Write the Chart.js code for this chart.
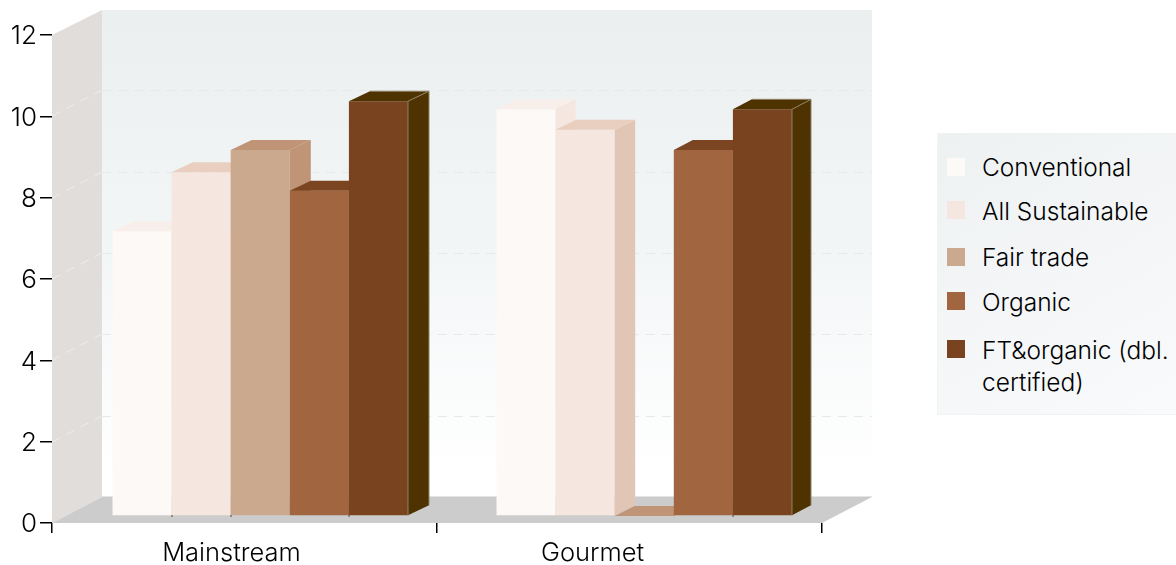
<!DOCTYPE html>
<html><head><meta charset="utf-8">
<script src="https://cdn.jsdelivr.net/npm/chart.js@4"></script>
<style>
html,body{margin:0;padding:0;background:#fff;overflow:hidden}
#wrap{position:relative;width:1176px;height:565px}
canvas{position:absolute;left:0;top:0}
#legend{position:absolute;left:937px;top:133px;width:239px;height:282px;box-sizing:border-box;
background:linear-gradient(150deg,#eef1f2 0%,#f9fafb 100%);border:1px solid #f1f2f2;border-right:none;
font:300 24.5px "Inter",sans-serif;color:#000}
.sw{position:absolute;left:9px;width:18px;height:18px}
.tx{position:absolute;left:44px;line-height:32px;white-space:nowrap}
</style></head><body>
<div id="wrap"><canvas id="c" width="1176" height="565"></canvas><div id="legend"></div></div>
<script>
const categories = ["Mainstream", "Gourmet"];
const seriesNames = ["Conventional", "All Sustainable", "Fair trade", "Organic", "FT&organic (dbl.\ncertified)"];
const conventional = [7, 10];
const allSustainable = [8.45, 9.5];
const fairTrade = [9, 0];
const organic = [8, 9];
const ftOrganic = [10.2, 10];
const seriesValues = [conventional, allSustainable, fairTrade, organic, ftOrganic];
const frontColors = ["#fdf9f6", "#f5e7df", "#cba98f", "#a16640", "#7a431f"];
const topColors = ["#f8efea", "#e9cfc0", "#bf9477", "#7b4521", "#4e3200"];
const sideColors = ["#f5e7df", "#e2c6b5", "#bf9477", "#7b4521", "#4e3200"];
const edgeColors = [null, null, null, null, "#8f8264"];
const yTicks = [0, 2, 4, 6, 8, 10, 12];
const FONT = 'Inter';

const room = {dx: 50, dy: 26};        // depth of the floor and walls
const bar = {dy: 10, up: 7};          // rise of a bar's depth and its lift off the front edge
const barDepths = [[21, 21, 21, 21, 21], [20, 20.5, 20, 19, 19]];
const barShift = [15.75, 14.75];
const labelShift = [-13, -37];
const yLabelDrop = 1.5;
const baseMarks = [[0, 0], [0, 1], [0, 3], [1, 3]];   // [category, series] small marks at bar feet

function poly(ctx, pts, fill) {
  ctx.beginPath();
  pts.forEach((p, i) => i ? ctx.lineTo(p[0], p[1]) : ctx.moveTo(p[0], p[1]));
  ctx.closePath();
  ctx.fillStyle = fill;
  ctx.fill();
}

const room3d = {
  id: "room3d",
  beforeDraw(chart) {
    const xs = chart.scales.x, ys = chart.scales.y;
    xs.getLabelItems().forEach((it, i) => {
      it.options.translation[0] = xs.getPixelForTick(i) + labelShift[i];
    });
    ys.getLabelItems().forEach((it, i) => {
      it.options.translation[1] = ys.getPixelForTick(i) + yLabelDrop;
    });
  },
  beforeDatasetsDraw(chart) {
    const {ctx, chartArea: a, scales: {y}} = chart;
    const bx = a.left + room.dx, bxr = a.right + room.dx;
    const top = a.top - room.dy + 1, bot = a.bottom - room.dy;
    // back wall
    const g = ctx.createLinearGradient(0, top, 0, bot);
    g.addColorStop(0, "#ebefef");
    g.addColorStop(0.5, "#f3f6f7");
    g.addColorStop(0.95, "#ffffff");
    ctx.fillStyle = g;
    ctx.fillRect(bx, top, bxr - bx, bot - top);
    // side wall
    poly(ctx, [[a.left, a.top], [bx, top], [bx, bot], [a.left, a.bottom]], "#e0dddb");
    // floor
    poly(ctx, [[a.left, a.bottom], [a.right, a.bottom], [bxr, bot], [bx, bot]], "#cccccc");
    ctx.fillStyle = "#e4e4e4";
    ctx.fillRect(bx, bot - 1, bxr - bx, 1);
    // gridlines
    ctx.save();
    ctx.lineWidth = 1;
    ctx.setLineDash([9, 7]);
    y.ticks.forEach(t => {
      if (t.value === 0 || t.value === 12) return;
      const py = Math.round(y.getPixelForValue(t.value));
      ctx.strokeStyle = "#f0eeec";
      ctx.beginPath(); ctx.moveTo(a.left, py); ctx.lineTo(bx, py - room.dy); ctx.stroke();
      ctx.strokeStyle = "#e6e9e9";
      ctx.beginPath(); ctx.moveTo(bx, py - room.dy + .5); ctx.lineTo(bxr, py - room.dy + .5); ctx.stroke();
    });
    ctx.restore();
    // bars, left to right so that each front hides its neighbour's side
    const items = [];
    chart.data.datasets.forEach((d, di) => {
      chart.getDatasetMeta(di).data.forEach((el, ci) => items.push({el, di, ci}));
    });
    items.sort((p, q) => p.ci - q.ci || p.di - q.di);
    items.forEach(({el, di, ci}) => {
      const s = el.getProps(["x", "y", "base", "width"], true);
      const ox = barShift[ci], oy = -bar.up, dx = barDepths[ci][di];
      const l = s.x - s.width / 2 + ox, r = s.x + s.width / 2 + ox;
      const t = s.y + oy, b = s.base + oy;
      ctx.save();
      ctx.translate(ox, oy);
      el.draw(ctx);
      ctx.restore();
      poly(ctx, [[l, t], [r, t], [r + dx, t - bar.dy], [l + dx, t - bar.dy]], topColors[di]);
      poly(ctx, [[r, t], [r + dx, t - bar.dy], [r + dx, b - bar.dy], [r, b]], sideColors[di]);
      if (edgeColors[di]) {
        ctx.strokeStyle = edgeColors[di];
        ctx.lineWidth = 1;
        ctx.beginPath();
        ctx.moveTo(r, b); ctx.lineTo(r, t); ctx.lineTo(r + dx, t - bar.dy); ctx.lineTo(r + dx, b - bar.dy);
        ctx.moveTo(l + dx, t - bar.dy); ctx.lineTo(r + dx, t - bar.dy);
        ctx.stroke();
      }
    });
    ctx.fillStyle = "#222";
    baseMarks.forEach(([ci, di]) => {
      const s = chart.getDatasetMeta(di).data[ci].getProps(["x", "base", "width"], true);
      ctx.fillRect(Math.round(s.x + s.width / 2 + barShift[ci]) - .5, s.base - bar.up, 1, 1.5);
    });
    return false;
  }
};

const chart = new Chart(document.getElementById("c"), {
  type: "bar",
  data: {
    labels: categories,
    datasets: seriesNames.map((n, i) => ({
      label: n, data: seriesValues[i], backgroundColor: frontColors[i], borderWidth: 0,
      barPercentage: 1, categoryPercentage: 0.7675
    }))
  },
  plugins: [room3d],
  options: {
    responsive: false, animation: false, devicePixelRatio: 1,
    layout: {padding: {left: 0, top: 35, right: 354, bottom: 0}},
    plugins: {legend: {display: false}, tooltip: {enabled: false}},
    scales: {
      x: {
        afterFit: s => { s.height = 42; },
        border: {display: false},
        grid: {drawOnChartArea: false, drawTicks: true, tickLength: 10, tickColor: "#000", lineWidth: 1.5},
        ticks: {color: "#000", font: {family: FONT, size: 25.5, weight: 300}, padding: 5, maxRotation: 0, autoSkip: false}
      },
      y: {
        min: 0, max: 12,
        afterFit: s => { s.width = 52; },
        afterBuildTicks: s => { s.ticks = yTicks.map(value => ({value})); },
        border: {display: false},
        grid: {drawOnChartArea: false, drawTicks: true, tickLength: 12, tickColor: "#000", lineWidth: 1.5},
        ticks: {color: "#000", font: {family: FONT, size: 26, weight: 300}, padding: 3}
      }
    }
  }
});

const legendTops = [17, 61, 107, 152, 200];
const swatchTops = [24, 67, 114, 158, 206];
const legendEl = document.getElementById("legend");
chart.data.datasets.forEach((d, i) => {
  const sw = document.createElement("div");
  sw.className = "sw"; sw.style.top = swatchTops[i] + "px"; sw.style.background = d.backgroundColor;
  const tx = document.createElement("div");
  tx.className = "tx"; tx.style.top = legendTops[i] + "px"; tx.innerHTML = d.label.replace("&", "&amp;").replace("\n", "<br>");
  legendEl.append(sw, tx);
});
</script></body></html>
